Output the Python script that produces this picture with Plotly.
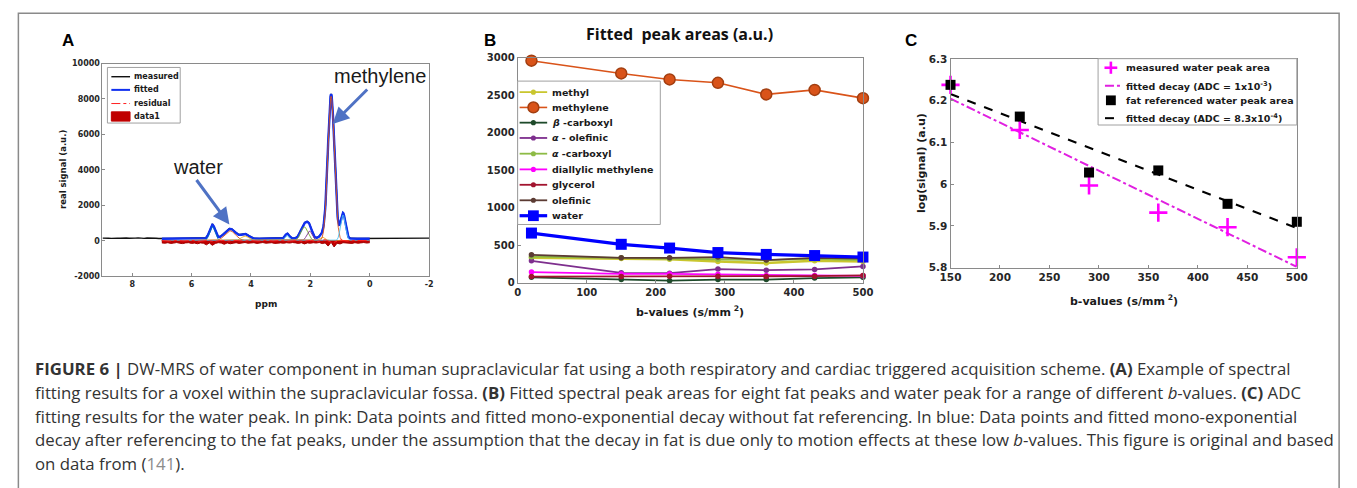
import numpy as np
import plotly.graph_objects as go

W, H = 1357, 488
def X(px): return px / W
def Y(py): return 1 - py / H

# ---------------- Panel A data (spectrum) ----------------
# fitted peak components: centre (ppm), amplitude, gaussian width (ppm)
comp_names = ["olefinic", "water", "glycerol", "diallylic methylene", "alpha-carboxyl",
              "alpha-olefinic", "beta-carboxyl", "methylene", "methyl"]
comp_ppm = [5.3, 4.7, 4.2, 2.78, 2.2, 2.03, 1.6, 1.3, 0.9]
comp_amp = [800, 560, 260, 290, 780, 550, 200, 8150, 1450]
comp_sigma = [0.09, 0.18, 0.13, 0.07, 0.12, 0.09, 0.1, 0.11, 0.08]
comp_colors = ["#0072BD", "#D95319", "#EDB120", "#4DBEEE", "#77AC30",
               "#7E2F8E", "#EDB120", "#D95319", "#4DBEEE"]
fit_baseline = 110

meas_left_ppm = [9.0, 8.9, 8.8, 8.7, 8.6, 8.5, 8.4, 8.3, 8.2, 8.1, 8.0, 7.9, 7.8, 7.7, 7.6, 7.5, 7.4, 7.3, 7.2, 7.1, 7.0]
meas_left_val = [150, 160, 140, 135, 158, 150, 138, 165, 152, 140, 132, 150, 160, 142, 136, 155, 162, 148, 138, 130, 120]
meas_right_ppm = [0.0, -0.1, -0.2, -0.3, -0.4, -0.5, -0.6, -0.7, -0.8, -0.9, -1.0, -1.1, -1.2, -1.3, -1.4, -1.5, -1.6, -1.7, -1.8, -1.9, -2.0]
meas_right_val = [118, 125, 140, 150, 132, 128, 145, 155, 138, 130, 150, 160, 142, 135, 150, 158, 140, 136, 152, 160, 150]

resid_ppm = [7.0, 6.75, 6.5, 6.25, 6.0, 5.75, 5.5, 5.25, 5.0, 4.75, 4.5, 4.25, 4.0, 3.75, 3.5, 3.25, 3.0,
             2.75, 2.5, 2.25, 2.0, 1.75, 1.5, 1.25, 1.0, 0.75, 0.5, 0.25, 0.0]
resid_val = [10, -20, 15, -10, 20, -30, 10, -40, 25, -20, 15, -15, 10, -20, 20, -10, 15,
             -25, 10, -30, 20, -40, 60, -120, 40, -20, 15, -10, 5]

data1_ppm = [7.0, 6.9, 6.8, 6.7, 6.6, 6.5, 6.4, 6.3, 6.2, 6.1, 6.0, 5.9, 5.8, 5.7, 5.6, 5.5, 5.4, 5.3, 5.2, 5.1,
             5.0, 4.9, 4.8, 4.7, 4.6, 4.5, 4.4, 4.3, 4.2, 4.1, 4.0, 3.9, 3.8, 3.7, 3.6, 3.5, 3.4, 3.3, 3.2, 3.1,
             3.0, 2.9, 2.8, 2.7, 2.6, 2.5, 2.4, 2.3, 2.2, 2.1, 2.0, 1.9, 1.8, 1.7, 1.6, 1.5, 1.4, 1.3, 1.2, 1.1,
             1.0, 0.9, 0.8, 0.7, 0.6, 0.5, 0.4, 0.3, 0.2, 0.1, 0.0]
data1_val = [-120, -140, -110, -150, -130, -100, -140, -160, -120, -110, -150, -130, -170, -120, -140, -230, -120, -260, -150, -110,
             -130, -200, -120, -170, -140, -110, -150, -120, -100, -140, -130, -110, -150, -120, -100, -140, -120, -110, -150, -130,
             -120, -140, -110, -130, -100, -120, -150, -110, -180, -120, -140, -110, -130, -100, -160, -120, -300, -80, -350, -140,
             -180, -110, -130, -120, -150, -110, -140, -120, -100, -130, -110]

# ---------------- Panel B data ----------------
b_vals = [20, 150, 220, 290, 360, 430, 500]
peak_names = ["methyl", "methylene", "β -carboxyl", "α - olefinic", "α -carboxyl",
              "diallylic methylene", "glycerol", "olefinic", "water"]
peak_labels = ["methyl", "methylene", "<i>β</i> -carboxyl", "<i>α</i> - olefinic", "<i>α</i> -carboxyl",
               "diallylic methylene", "glycerol", "olefinic", "water"]
peak_areas = {
    "methyl":              [330, 320, 310, 280, 260, 290, 280],
    "methylene":           [2960, 2790, 2710, 2665, 2510, 2570, 2460],
    "β -carboxyl":         [70, 40, 25, 40, 40, 60, 70],
    "α - olefinic":        [290, 130, 125, 180, 165, 175, 215],
    "α -carboxyl":         [345, 330, 320, 310, 300, 315, 300],
    "diallylic methylene": [140, 115, 115, 110, 95, 95, 90],
    "glycerol":            [80, 80, 85, 85, 80, 85, 95],
    "olefinic":            [370, 330, 330, 340, 300, 330, 320],
    "water":               [660, 510, 460, 400, 375, 360, 340],
}
peak_colors = {
    "methyl": "#C9C62E", "methylene": "#D95319", "β -carboxyl": "#1E4A2A",
    "α - olefinic": "#7E2F8E", "α -carboxyl": "#8DBB45", "diallylic methylene": "#FF00FF",
    "glycerol": "#A2142F", "olefinic": "#5B3B33", "water": "#0000FF",
}

# ---------------- Panel C data ----------------
c_b = [150, 220, 290, 360, 430, 500]
c_measured = [6.238, 6.130, 5.997, 5.932, 5.897, 5.825]
c_fatref = [6.238, 6.162, 6.028, 6.033, 5.953, 5.910]
c_fit_b = [150, 500]
c_fit_meas = [6.205, 5.802]
c_fit_fat = [6.216, 5.895]

# ---------------- build ----------------
fig = go.Figure()

ppm = np.linspace(7.0, 0.0, 701)
comps = [a * np.exp(-0.5 * ((ppm - c) / s) ** 2) for c, a, s in zip(comp_ppm, comp_amp, comp_sigma)]
fitted = fit_baseline + np.sum(comps, axis=0)

meas_x = list(meas_left_ppm) + list(ppm[1:-1]) + list(meas_right_ppm)
meas_y = list(meas_left_val) + list(fitted[1:-1] + 20) + list(meas_right_val)

fig.add_trace(go.Scatter(x=meas_x, y=meas_y, mode="lines", line=dict(color="#111111", width=1.4),
                         xaxis="x", yaxis="y", showlegend=False, name="measured"))
fig.add_trace(go.Scatter(x=ppm, y=fitted, mode="lines", line=dict(color="#1030F0", width=2.4),
                         xaxis="x", yaxis="y", showlegend=False, name="fitted"))
for cy, col in zip(comps, comp_colors):
    fig.add_trace(go.Scatter(x=ppm, y=cy, mode="lines", line=dict(color=col, width=0.9),
                             xaxis="x", yaxis="y", showlegend=False, hoverinfo="skip"))
fig.add_trace(go.Scatter(x=data1_ppm, y=data1_val, mode="lines", fill="tozeroy",
                         fillcolor="#C00000", line=dict(color="#A00000", width=1),
                         xaxis="x", yaxis="y", showlegend=False, name="data1"))
fig.add_trace(go.Scatter(x=resid_ppm, y=resid_val, mode="lines", line=dict(color="#FF2020", width=1, dash="dashdot"),
                         xaxis="x", yaxis="y", showlegend=False, name="residual"))

# Panel B
for nm in peak_names:
    col = peak_colors[nm]
    if nm == "methylene":
        mk = dict(symbol="circle", size=11, color=col, line=dict(color="#A23E10", width=1.5))
        lw = 1.6
    elif nm == "water":
        mk = dict(symbol="square", size=11, color=col, line=dict(color=col, width=0))
        lw = 3.2
    elif nm == "methyl":
        mk = dict(symbol="circle", size=5.5, color=col, line=dict(width=0))
        lw = 2.4
    else:
        mk = dict(symbol="circle", size=5.5, color=col, line=dict(width=0))
        lw = 1.8
    fig.add_trace(go.Scatter(x=b_vals, y=peak_areas[nm], mode="lines+markers", line=dict(color=col, width=lw),
                             marker=mk, xaxis="x2", yaxis="y2", showlegend=False, name=nm, cliponaxis=False))

# Panel C
fig.add_trace(go.Scatter(x=c_fit_b, y=c_fit_meas, mode="lines", line=dict(color="#E020E0", width=2, dash="dashdot"),
                         xaxis="x3", yaxis="y3", showlegend=False))
fig.add_trace(go.Scatter(x=c_fit_b, y=c_fit_fat, mode="lines", line=dict(color="#000000", width=2, dash="dash"),
                         xaxis="x3", yaxis="y3", showlegend=False))
fig.add_trace(go.Scatter(x=c_b, y=c_measured, mode="markers",
                         marker=dict(symbol="cross-thin", size=13, line=dict(color="#FF00FF", width=2.6)),
                         xaxis="x3", yaxis="y3", showlegend=False, cliponaxis=False))
fig.add_trace(go.Scatter(x=c_b, y=c_fatref, mode="markers",
                         marker=dict(symbol="square", size=10, color="#000000"),
                         xaxis="x3", yaxis="y3", showlegend=False, cliponaxis=False))

TICK = "#262626"
AX = "#8a8a8a"
def axstyle(size, **kw):
    d = dict(showgrid=False, zeroline=False, showline=True, linecolor=AX, linewidth=1, mirror=True,
             ticks="inside", ticklen=3, tickcolor=AX,
             tickfont=dict(family="DejaVu Sans", size=size, weight="bold", color=TICK))
    d.update(kw)
    return d

a_y_ticks = [-2000, 0, 2000, 4000, 6000, 8000, 10000]
a_x_ticks = [8, 6, 4, 2, 0, -2]
b_x_ticks = [0, 100, 200, 300, 400, 500]
b_y_ticks = [0, 500, 1000, 1500, 2000, 2500, 3000]
c_x_ticks = [150, 200, 250, 300, 350, 400, 450, 500]
c_y_ticks = [5.8, 5.9, 6.0, 6.1, 6.2, 6.3]
c_y_text = ["5.8", "5.9", "6", "6.1", "6.2", "6.3"]

fig.update_layout(
    width=W, height=H, margin=dict(l=0, r=0, t=0, b=0),
    paper_bgcolor="white", plot_bgcolor="white", showlegend=False,
    xaxis=axstyle(8, domain=[X(93), X(425)], range=[9, -2], anchor="y",
                  tickvals=a_x_ticks, ticktext=[str(v) for v in a_x_ticks]),
    yaxis=axstyle(8, domain=[Y(277), Y(59)], range=[-2000, 10000], anchor="x",
                  tickvals=a_y_ticks, ticktext=[str(v) for v in a_y_ticks]),
    xaxis2=axstyle(10, domain=[X(515), X(866)], range=[0, 500], anchor="y2",
                   tickvals=b_x_ticks, ticktext=[str(v) for v in b_x_ticks]),
    yaxis2=axstyle(10, domain=[Y(283.5), Y(53)], range=[0, 3000], anchor="x2",
                   tickvals=b_y_ticks, ticktext=[str(v) for v in b_y_ticks]),
    xaxis3=axstyle(10.5, domain=[X(955), X(1307)], range=[150, 500], anchor="y3",
                   tickvals=c_x_ticks, ticktext=[str(v) for v in c_x_ticks]),
    yaxis3=axstyle(10.5, domain=[Y(268.3), Y(54.3)], range=[5.8, 6.3], anchor="x3",
                   tickvals=c_y_ticks, ticktext=c_y_text),
)

shapes = []
ann = []

def txt(x, y, s, size, family="DejaVu Sans", weight="bold", color="#1a1a1a", xanchor="left", yanchor="middle", angle=0):
    ann.append(dict(x=X(x), y=Y(y), xref="paper", yref="paper", text=s, showarrow=False,
                    xanchor=xanchor, yanchor=yanchor, textangle=angle,
                    font=dict(family=family, size=size, weight=weight, color=color)))

def hline(x0, x1, y, color, width, dash="solid"):
    shapes.append(dict(type="line", xref="paper", yref="paper", x0=X(x0), x1=X(x1), y0=Y(y), y1=Y(y),
                       line=dict(color=color, width=width, dash=dash)))

def box(x0, y0, x1, y1, fill="white", line="#a0a0a0", width=1):
    shapes.append(dict(type="rect", xref="paper", yref="paper", x0=X(x0), x1=X(x1), y0=Y(y1), y1=Y(y0),
                       fillcolor=fill, line=dict(color=line, width=width)))

def dot(cx, cy, r, fill, line=None, lw=0, kind="circle"):
    shapes.append(dict(type=kind, xref="paper", yref="paper", x0=X(cx - r), x1=X(cx + r), y0=Y(cy + r), y1=Y(cy - r),
                       fillcolor=fill, line=dict(color=line or fill, width=lw)))

# outer frame
shapes.append(dict(type="rect", xref="paper", yref="paper", x0=X(7.5), x1=X(1350), y0=Y(500), y1=Y(7.5),
                   line=dict(color="#8a8a8a", width=1.5), fillcolor="rgba(0,0,0,0)"))

# Legend A
box(98, 63, 172, 120)
hline(102, 121, 72.5, "#111111", 1.4)
hline(102, 121, 86, "#1030F0", 2)
hline(102, 121, 100, "#FF2020", 1, "dashdot")
box(102, 108.5, 121, 118, fill="#C00000", line="#C00000")
for yy, s in zip([72.5, 86, 100, 113], ["measured", "fitted", "residual", "data1"]):
    txt(123, yy, s, 8)

# Legend B
box(515, 77, 660, 224)
rows_b = [88.3, 104, 119.6, 135.3, 151.4, 167.5, 183.3, 199.2, 215]
for yy, nm, label in zip(rows_b, peak_names, peak_labels):
    col = peak_colors[nm]
    if nm == "methylene":
        hline(517, 545, yy, col, 1.6)
        dot(531, yy, 5.5, col, "#A23E10", 1.5)
    elif nm == "water":
        hline(517, 545, yy, col, 3.2)
        dot(531, yy, 5.5, col, col, 0, kind="rect")
    else:
        hline(517, 545, yy, col, 1.8)
        dot(531, yy, 2.6, col)
    txt(547.5, yy, label, 9.5)

# Legend C
box(1105, 54, 1307, 122)
shapes.append(dict(type="line", xref="paper", yref="paper", x0=X(1118), x1=X(1118), y0=Y(57), y1=Y(69.5),
                   line=dict(color="#FF00FF", width=2.6)))
hline(1111.5, 1124.5, 63.3, "#FF00FF", 2.6)
hline(1112, 1130, 81.7, "#E020E0", 2, "dashdot")
dot(1118, 96.7, 5, "#000000", kind="rect")
hline(1112, 1130, 115, "#000000", 2, "dash")
txt(1131, 63.3, "measured water peak area", 9.5)
txt(1131, 81.7, "fitted decay (ADC = 1x10<sup>-3</sup>)", 9.5)
txt(1131, 96.7, "fat referenced water peak area", 9.5)
txt(1131, 115, "fitted decay (ADC = 8.3x10<sup>-4</sup>)", 9.5)

# panel letters
txt(58, 35, "A", 17, family="Liberation Sans", color="#000000", xanchor="center")
txt(487, 35, "B", 17, family="Liberation Sans", color="#000000", xanchor="center")
txt(915, 35, "C", 17, family="Liberation Sans", color="#000000", xanchor="center")

# titles / axis titles
txt(680, 29, "Fitted  peak areas (a.u.)", 16, family="Open Sans", color="#111111", xanchor="center")
txt(259, 305, "ppm", 9, xanchor="center")
txt(53, 168, "real signal (a.u.)", 8.5, xanchor="center", angle=-90)
txt(690, 313, "b-values (s/mm<sup> 2</sup>)", 11, xanchor="center")
txt(1131, 302, "b-values (s/mm<sup> 2</sup>)", 11, xanchor="center")
txt(925, 161, "log(signal) (a.u)", 11, xanchor="center", angle=-90)

# spectrum annotations
txt(375, 72, "methylene", 20, family="Liberation Sans", weight="normal", color="#1a1a1a", xanchor="center")
txt(190, 165, "water", 20, family="Liberation Sans", weight="normal", color="#1a1a1a", xanchor="center")
ARROW = "#4F72C4"
ann.append(dict(x=X(327), y=Y(121), xref="paper", yref="paper", ax=36, ay=-36, axref="pixel", ayref="pixel",
                showarrow=True, arrowhead=2, arrowsize=1.1, arrowwidth=3, arrowcolor=ARROW, text=""))
ann.append(dict(x=X(222), y=Y(224), xref="paper", yref="paper", ax=-34, ay=-46, axref="pixel", ayref="pixel",
                showarrow=True, arrowhead=2, arrowsize=1.1, arrowwidth=3, arrowcolor=ARROW, text=""))

# caption
CAP = "#333333"
cap_lines = [
    "<b>FIGURE 6 |</b> DW-MRS of water component in human supraclavicular fat using a both respiratory and cardiac triggered acquisition scheme. <b>(A)</b> Example of spectral",
    "fitting results for a voxel within the supraclavicular fossa. <b>(B)</b> Fitted spectral peak areas for eight fat peaks and water peak for a range of different <i>b</i>-values. <b>(C)</b> ADC",
    "fitting results for the water peak. In pink: Data points and fitted mono-exponential decay without fat referencing. In blue: Data points and fitted mono-exponential",
    "decay after referencing to the fat peaks, under the assumption that the decay in fat is due only to motion effects at these low <i>b</i>-values. This figure is original and based",
    "on data from (<span style='color:#8c8c8c'>141</span>).",
]
for i, s in enumerate(cap_lines):
    txt(22, 372 + 24.25 * i, s, 16.8, family="Open Sans", weight="normal", color=CAP)

fig.update_layout(shapes=shapes, annotations=ann)
fig.write_html("out.html", config={"displayModeBar": False},
               post_script="document.body.style.margin='0';document.body.style.overflow='hidden';")
